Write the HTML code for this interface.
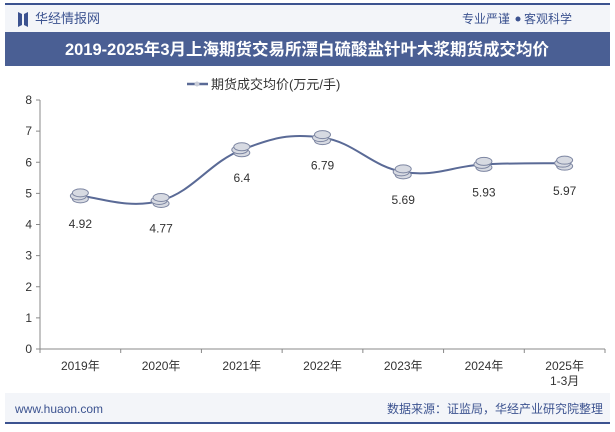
<!DOCTYPE html>
<html><head><meta charset="utf-8"><style>
body{margin:0;width:615px;height:427px;overflow:hidden;background:#fff;font-family:"Liberation Sans","Noto Sans CJK SC",sans-serif;}
</style></head><body>
<svg width="615" height="427" xmlns="http://www.w3.org/2000/svg">
<rect x="5" y="3" width="605" height="2" fill="#3c5390"/>
<rect x="5" y="5" width="605" height="27" fill="#f3f5f9"/>
<path d="M18 12 L22 14 L22 25 L18 27 Z M28 12 L24 14 L24 25 L28 27 Z" fill="#3c5390"/>
<text x="35" y="23" font-size="13" fill="#3c5390">华经情报网</text>
<text x="510" y="23" font-size="12" fill="#3c5390" text-anchor="end">专业严谨</text>
<circle cx="518" cy="19" r="2.5" fill="#3c5390"/>
<text x="524" y="23" font-size="12" fill="#3c5390">客观科学</text>
<rect x="5" y="32" width="605" height="34" fill="#4a5f94"/>
<text x="307" y="55" font-size="16.5" font-weight="bold" fill="#fff" text-anchor="middle">2019-2025年3月上海期货交易所漂白硫酸盐针叶木浆期货成交均价</text>
<line x1="187" y1="84" x2="208" y2="84" stroke="#5a6a96" stroke-width="2.5"/>
<circle cx="197" cy="84" r="2.5" fill="#c8ccd8"/>
<text x="211" y="89" font-size="13" fill="#333">期货成交均价(万元/手)</text>
<g id="plot"></g>
<rect x="5" y="393" width="605" height="29" fill="#f3f5f9"/>
<rect x="5" y="422" width="605" height="2" fill="#3c5390"/>
<text x="15" y="413" font-size="12" fill="#3c5390">www.huaon.com</text>
<text x="603" y="413" font-size="12" fill="#3c5390" text-anchor="end">数据来源：证监局，华经产业研究院整理</text>
</svg>
<script>
const categories=["2019年","2020年","2021年","2022年","2023年","2024年","2025年"];
const values=[4.92,4.77,6.4,6.79,5.69,5.93,5.97];
const valueLabels=["4.92","4.77","6.4","6.79","5.69","5.93","5.97"];
const yTicks=[0,1,2,3,4,5,6,7,8];
const NS="http://www.w3.org/2000/svg";
const g=document.getElementById('plot');
const x0=40,x1=605,yb=349,yt=100;
const bw=(x1-x0)/categories.length;
const X=i=>x0+bw*(i+0.5);
const Y=v=>yb-(v/8)*(yb-yt);
function mk(t,a){const e=document.createElementNS(NS,t);for(const k in a)e.setAttribute(k,a[k]);g.appendChild(e);return e;}
let e=mk('line',{x1:x0,y1:yt,x2:x0,y2:yb,stroke:'#888'});

e=mk('line',{x1:x0,y1:yb,x2:x1,y2:yb,stroke:'#888'});

yTicks.forEach(t=>{
 let l=mk('line',{x1:x0-4,y1:Y(t),x2:x0,y2:Y(t),stroke:'#888'});
 
 let s=mk('text',{x:x0-8,y:Y(t)+4,'font-size':12,fill:'#333','text-anchor':'end'});s.textContent=t;
 
});
for(let i=0;i<=categories.length;i++){
 let l=mk('line',{x1:x0+bw*i,y1:yb,x2:x0+bw*i,y2:yb+4,stroke:'#888'});
 
}
categories.forEach((c,i)=>{
 let s=mk('text',{x:X(i),y:yb+21,'font-size':12,fill:'#333','text-anchor':'middle'});s.textContent=c;
 
 if(i===categories.length-1){let s2=mk('text',{x:X(i),y:yb+36,'font-size':12,fill:'#333','text-anchor':'middle'});s2.textContent="1-3月";
 }
});
const P=values.map((v,i)=>[X(i),Y(v)]);
let d=`M${P[0][0]},${P[0][1]}`;
for(let i=0;i<P.length-1;i++){
 const p0=P[Math.max(i-1,0)],p1=P[i],p2=P[i+1],p3=P[Math.min(i+2,P.length-1)];
 const t=0.2;
 d+=` C${p1[0]+(p2[0]-p0[0])*t},${p1[1]+(p2[1]-p0[1])*t} ${p2[0]-(p3[0]-p1[0])*t},${p2[1]-(p3[1]-p1[1])*t} ${p2[0]},${p2[1]}`;
}
e=mk('path',{d:d,fill:'none',stroke:'#5a6a96','stroke-width':2});

P.forEach((p,i)=>{
 for(let k=2;k>=0;k--){
  let c=mk('ellipse',{cx:p[0]+(k===1?-2:0),cy:p[1]+k*3-3,rx:8,ry:4,fill:'#d7dae2',stroke:'#7d86a2','stroke-width':1});
  
 }
 let s=mk('text',{x:p[0],y:p[1]+32,'font-size':12,fill:'#333','text-anchor':'middle'});s.textContent=valueLabels[i];
 
});
</script>
</body></html>
